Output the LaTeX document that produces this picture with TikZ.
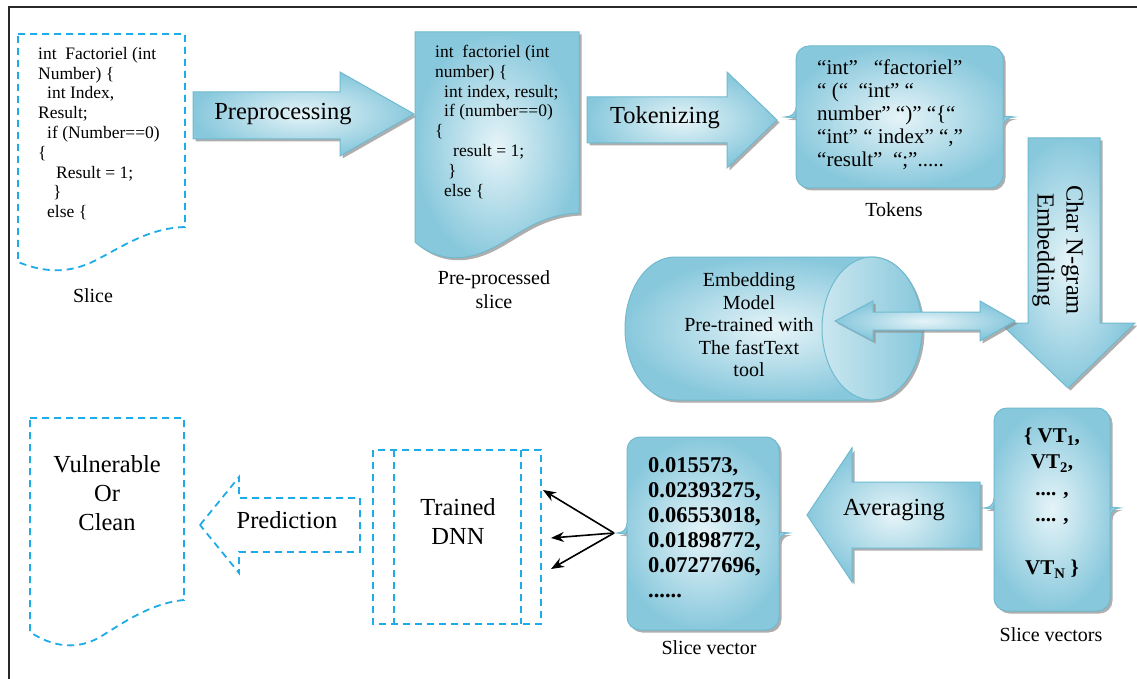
\documentclass[tikz,border=0pt]{standalone}
\usepackage{fontspec}
\setmainfont{Liberation Serif}
\usetikzlibrary{shadows,arrows.meta}
\definecolor{cA}{RGB}{136,200,220}
\definecolor{cB}{RGB}{230,244,248}
\definecolor{cE}{RGB}{112,186,208}
\definecolor{dashc}{RGB}{30,172,232}
\definecolor{frame}{RGB}{40,40,40}
\newcommand\fs[2]{\fontsize{#1}{#2}\selectfont}
\tikzset{
  gbox/.style={draw=cE, line width=1pt, inner color=cB, outer color=cA,
    drop shadow={shadow xshift=2.5pt, shadow yshift=-2.5pt, fill=black!45, opacity=0.7}},
  dbox/.style={draw=dashc, line width=1.8pt, dash pattern=on 7pt off 5pt},
  code/.style={anchor=north west, inner sep=0pt, align=left, font=\fs{17.5}{19.8}},
  caption/.style={inner sep=0pt, font=\fs{20}{24}, align=center},
  big/.style={inner sep=0pt, font=\fs{24.5}{29}, align=center},
  blk/.style={-{Stealth[length=13pt,width=10pt]}, line width=1.6pt, black}
}
\newcommand\mybrace[7]{%
  \path[gbox] ({#1-#6},#5) .. controls ({#1-#6/2},#5) and (#1,{#5-3}) .. (#1,{#5-10})
    [rounded corners=#7pt] -- (#1,#2) -- (#3,#2) -- (#3,{#5-10}) [sharp corners]
    .. controls (#3,{#5-3}) and ({#3+#6/2},#5) .. ({#3+#6},#5)
    .. controls ({#3+#6/2},#5) and (#3,{#5+3}) .. (#3,{#5+10})
    [rounded corners=#7pt] -- (#3,#4) -- (#1,#4) -- (#1,{#5+10}) [sharp corners]
    .. controls (#1,{#5+3}) and ({#1-#6/2},#5) .. cycle;}
\begin{document}
\begin{tikzpicture}[x=1pt,y=-1pt]
\useasboundingbox (0,0) rectangle (1137,679);
\fill[white] (0,0) rectangle (1137,679);
\draw[line width=1.6pt, frame] (9,679) -- (9,7) -- (1137,7);

% Slice (dashed document)
\draw[dbox] (18,34) -- (185,34) -- (185,227) .. controls (150,228) and (125,245) .. (100,258)
  .. controls (75,272) and (50,275) .. (18,262) -- cycle;
\node[code] (slicecode) at (38,47) {int\ \ Factoriel (int\\
Number) \{\\
\hspace*{9pt}int Index,\\
Result;\\
\hspace*{9pt}if (Number==0)\\
\{\\
\hspace*{18pt}Result = 1;\\
\hspace*{15pt}\}\\
\hspace*{9pt}else \{};
\node[caption] (slicelab) at (93,296) {Slice};

% Preprocessing arrow
\path[gbox] (193,92) -- (340,92) -- (340,72) -- (414,114) -- (340,156) -- (340,139) -- (193,139) -- cycle;
\node[big] (prep) at (283,114) {Preprocessing};

% Pre-processed slice
\path[gbox] (415,32) -- (579,32) -- (579,213) .. controls (530,215) and (510,245) .. (475,255)
  .. controls (450,262) and (430,255) .. (415,242) -- cycle;
\node[code] (ppcode) at (435,45) {int\ \ factoriel (int\\
number) \{\\
\hspace*{9pt}int index, result;\\
\hspace*{9pt}if (number==0)\\
\{\\
\hspace*{18pt}result = 1;\\
\hspace*{13pt}\}\\
\hspace*{9pt}else \{};
\node[caption] (pplab) at (494,290) {Pre-processed\\slice};

% Tokenizing arrow
\path[gbox] (587,97) -- (727,97) -- (727,72) -- (777,120) -- (727,168) -- (727,143) -- (587,143) -- cycle;
\node[big] (tok) at (665,118) {Tokenizing};

% Tokens box
\mybrace{796}{46}{1003}{188}{117}{11}{13}
\node[anchor=north west, inner sep=0pt, align=left, font=\fs{21}{23}] (toktext) at (817,60)
 {“int”\ \ \ “factoriel”\\
  “ (“\ \ “int” “\\
  number”\ “)” “\{“\\
  “int” “ index” “,”\\
  “result”\ \ “;”.....};
\node[caption] (toklab) at (894,210) {Tokens};

% Char N-gram Embedding arrow
\path[gbox] (1028,138) -- (1100,138) -- (1100,323) -- (1135,323) -- (1068,388) -- (1000,323) -- (1028,323) -- cycle;
\node[big, rotate=-90] (chr) at (1058,250) {Char N-gram\\Embedding};

% Cylinder
\path[gbox] (675,257) -- (872,257) arc[start angle=90,end angle=-90,x radius=50pt,y radius=71.5pt]
  -- (675,400) arc[start angle=270,end angle=90,x radius=50pt,y radius=71.5pt] -- cycle;
\path[draw=cE, line width=1pt, left color=cB!70!cA, right color=cA] (872,328.5) ellipse[x radius=50pt, y radius=71.5pt];
\node[inner sep=0pt, align=center, font=\fs{20}{22.5}] (emb) at (749,325)
 {Embedding\\Model\\Pre-trained with\\The fastText\\tool};

% Double arrow
\path[gbox] (835,321) -- (873,301) -- (873,312) -- (980,312) -- (980,301) -- (1015,321)
  -- (980,341) -- (980,330) -- (873,330) -- (873,341) -- cycle;

% Slice vectors box
\mybrace{994}{408}{1110}{611}{508}{10}{13}
\node[inner sep=0pt, align=center, font=\bfseries\fs{21}{26.5}] (vts) at (1052,503)
 {\{ VT\textsubscript{1},\\ VT\textsubscript{2},\\ .... ,\\ .... ,\\ \mbox{}\\ VT\textsubscript{N} \}};
\node[caption] (vtslab) at (1051,635) {Slice vectors};

% Averaging arrow
\path[gbox] (980,482) -- (852,482) -- (852,448) -- (807,515) -- (852,582) -- (852,548) -- (980,548) -- cycle;
\node[big] (avg) at (894,510) {Averaging};

% Slice vector box
\mybrace{627}{437}{779}{630}{533}{10}{13}
\node[anchor=north west, inner sep=0pt, align=left, font=\bfseries\fs{22.5}{25}] (svtext) at (648,457)
 {0.015573,\\0.02393275,\\0.06553018,\\0.01898772,\\0.07277696,\\......};
\node[caption] (svlab) at (709,648) {Slice vector};

% Trained DNN
\draw[dbox] (373,450) rectangle (541,624);
\draw[dbox] (394,450) -- (394,624);
\draw[dbox] (521,450) -- (521,624);
\node[big] (dnn) at (458,522) {Trained\\DNN};

% black arrows
\coordinate (src) at (614,533);
\coordinate (d1) at (543,490);
\coordinate (d2) at (551,538);
\coordinate (d3) at (551,569);
\draw[blk] (src) -- (d1);
\draw[blk] (src) -- (d2);
\draw[blk] (src) -- (d3);

% Prediction dashed arrow
\draw[dbox] (200,525) -- (239,477) -- (239,498) -- (360,498) -- (360,552) -- (239,552) -- (239,573) -- cycle;
\node[big] (pred) at (287,520) {Prediction};

% Vulnerable or Clean
\draw[dbox] (30,418) -- (184,418) -- (184,600) .. controls (150,603) and (120,625) .. (100,637)
  .. controls (85,646) and (60,652) .. (30,632) -- cycle;
\node[big] (res) at (107,493) {Vulnerable\\Or\\Clean};
\end{tikzpicture}
\end{document}
